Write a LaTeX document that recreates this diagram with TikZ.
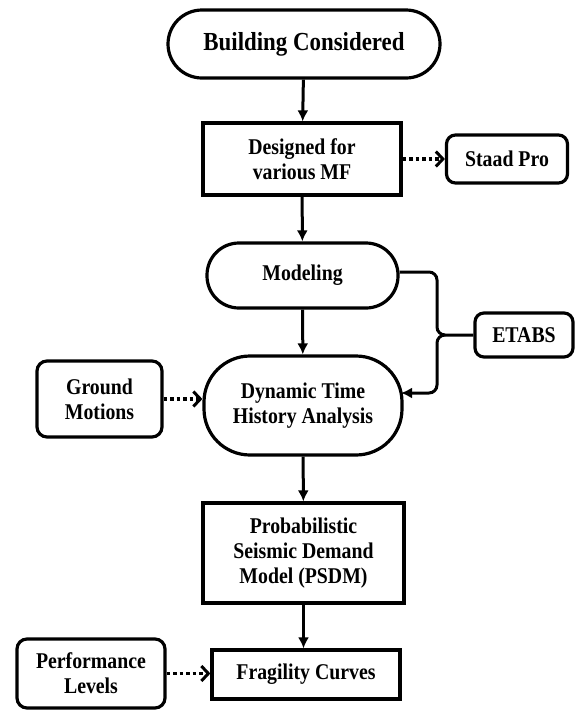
\documentclass[tikz,border=0pt]{standalone}
\usepackage{fontspec}
\setmainfont{Liberation Serif}[FakeStretch=0.88]
\usetikzlibrary{arrows.meta}
\begin{document}
\begin{tikzpicture}[x=1pt,y=-1pt,
  every node/.style={font=\bfseries\fontsize{22.5}{25}\selectfont, align=center, inner sep=0pt, line width=3.2pt},
  sq/.style={draw, rectangle},
  rbox/.style={draw, rectangle, rounded corners=9pt},
  flow/.style={line width=3pt, -{Latex[length=11pt,width=11pt]}},
  dotarrow/.style={line width=3.6pt, dash pattern=on 3.5pt off 3pt, -{Straight Barb[length=7pt,width=15pt,line width=3pt]}},
  brace/.style={line width=3pt}
]
\useasboundingbox (0,0) rectangle (576,710);

\node[draw, rectangle, rounded corners=34pt, minimum width=272pt, minimum height=68pt, font=\bfseries\fontsize{26}{28}\selectfont] (bc) at (304,44) {Building Considered};
\node[sq, minimum width=198pt, minimum height=72pt] (des) at (302,159) {Designed for\\various MF};
\node[rbox, minimum width=121pt, minimum height=48pt] (staad) at (507,159) {Staad Pro};
\node[draw, rectangle, rounded corners=32pt, minimum width=191pt, minimum height=65pt] (mod) at (302.5,275.5) {Modeling};
\node[draw, rectangle, rounded corners=46pt, minimum width=198pt, minimum height=99pt] (dyn) at (303,405.5) {Dynamic Time\\History Analysis};
\node[rbox, minimum width=98pt, minimum height=44pt] (etabs) at (524,335) {ETABS};
\node[rbox, rounded corners=10pt, minimum width=125pt, minimum height=76pt] (gm) at (99.5,399) {Ground\\Motions};
\node[sq, minimum width=201pt, minimum height=100pt] (psdm) at (303.5,553) {Probabilistic\\Seismic Demand\\Model (PSDM)};
\node[sq, minimum width=188pt, minimum height=49pt] (frag) at (306,674.5) {Fragility Curves};
\node[rbox, rounded corners=10pt, minimum width=148pt, minimum height=69pt] (perf) at (91,673.5) {Performance\\Levels};

% main flow
\draw[flow] (bc) -- (des);
\draw[flow] (des) -- (mod);
\draw[flow] (mod) -- (dyn);
\draw[flow] (dyn) -- (psdm);
\draw[flow] (psdm) -- (frag.north -| psdm.south);

% dotted inputs
\draw[dotarrow] (des.east) -- (staad.west);
\draw[dotarrow] (gm.east) -- (gm.east -| dyn.west);
\draw[dotarrow] (perf.east) -- (perf.east -| frag.west);

% ETABS brace
\coordinate (tip) at (445,335);
\coordinate (dynin) at (401,393);
\draw[brace] (mod.east |- 0,272) -- (429,272) to[out=0,in=90] (437,280) -- (437,327) to[out=-90,in=180] (tip) -- (etabs.west);
\draw[brace, -{Latex[length=11pt,width=11pt]}] (tip) to[out=180,in=90] (437,343) -- (437,385) to[out=-90,in=0] (429,393) -- (dynin);
\end{tikzpicture}
\end{document}
